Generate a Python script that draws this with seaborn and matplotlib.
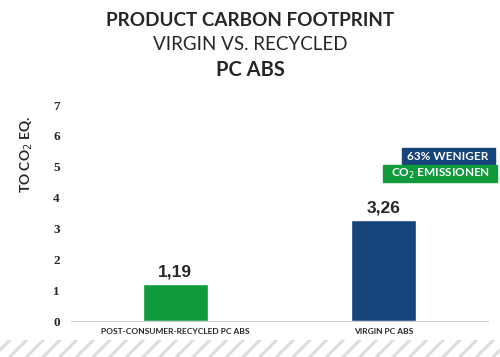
import pandas as pd
import matplotlib.pyplot as plt
import seaborn as sns
from matplotlib.patches import Rectangle

# data
categories = ['POST-CONSUMER-RECYCLED PC ABS', 'VIRGIN PC ABS']
values = [1.19, 3.26]
value_labels = ['1,19', '3,26']
bar_colors = ['#0f9a3c', '#15437a']
y_ticks = [0, 1, 2, 3, 4, 5, 6, 7]

df = pd.DataFrame({'material': categories, 'co2': values})

sns.set_theme(style="white")
plt.rcParams['font.family'] = ['Lato', 'DejaVu Sans']
plt.rcParams['hatch.linewidth'] = 2.2

fig = plt.figure(figsize=(5, 3.57), dpi=100)
ax = fig.add_axes([71 / 500, 1 - 321 / 357, 417 / 500, 216 / 357])

sns.barplot(data=df, x='material', y='co2', hue='material', palette=bar_colors,
            width=0.31, legend=False, ax=ax, saturation=1)

ax.set_ylim(0, 7)
ax.set_xlim(-0.5, 1.5)
ax.set_yticks(y_ticks)
ax.set_yticklabels([str(t) for t in y_ticks], family='Liberation Serif',
                   fontweight='bold', fontsize=9.5)
ax.set_xticks([0, 1])
ax.set_xticklabels(categories, fontweight='bold', fontsize=6)
ax.tick_params(axis='y', length=0, pad=8)
ax.tick_params(axis='x', length=0, pad=5)
ax.set_xlabel('')
ax.set_ylabel('TO CO$_2$ EQ.', fontweight='bold', fontsize=10)
ax.yaxis.set_label_coords(-36 / 417, 0.77)

for s in ['left', 'right', 'top']:
    ax.spines[s].set_visible(False)
ax.spines['bottom'].set_color('#cccccc')
ax.spines['bottom'].set_linewidth(0.8)

# value labels
for i, (v, lab) in enumerate(zip(values, value_labels)):
    ax.text(i, v + 0.15, lab, ha='center', va='bottom', family='Liberation Sans',
            fontweight='bold', fontsize=12.5)

# titles
fig.text(0.5, 1 - 20 / 357, 'PRODUCT CARBON FOOTPRINT', ha='center', va='center',
         fontweight='bold', fontsize=13.6)
fig.text(0.5, 1 - 45 / 357, 'VIRGIN VS. RECYCLED', ha='center', va='center', fontsize=13.5)
fig.text(0.5, 1 - 70 / 357, 'PC ABS', ha='center', va='center', fontweight='bold', fontsize=14.5)

# badge boxes
fig.patches.append(Rectangle((402 / 500, 1 - 164 / 357), 93 / 500, 16 / 357,
                             transform=fig.transFigure, color='#15437a', zorder=1))
fig.text(448 / 500, 1 - 156 / 357, '63% WENIGER', ha='center', va='center', color='white',
         fontweight='bold', fontsize=8.5)
fig.patches.append(Rectangle((383 / 500, 1 - 182 / 357), 114 / 500, 17 / 357,
                             transform=fig.transFigure, color='#0f9a3c', zorder=1))
fig.text(440 / 500, 1 - 173.5 / 357, 'CO$_2$ EMISSIONEN', ha='center', va='center', color='white',
         fontweight='bold', fontsize=8.5)

# hatched band at the bottom
fig.patches.append(Rectangle((0, 0), 1, 17 / 357, transform=fig.transFigure,
                             facecolor='white', edgecolor='#dddddd', hatch='//',
                             linewidth=0, zorder=0))

fig.savefig('out.png', dpi=100)
